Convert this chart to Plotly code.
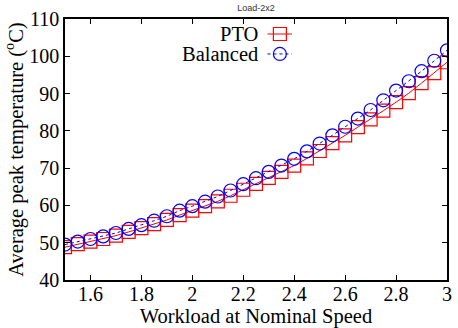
import plotly.graph_objects as go

workload = [1.50, 1.55, 1.60, 1.65, 1.70, 1.75, 1.80, 1.85, 1.90, 1.95,
            2.00, 2.05, 2.10, 2.15, 2.20, 2.25, 2.30, 2.35, 2.40, 2.45,
            2.50, 2.55, 2.60, 2.65, 2.70, 2.75, 2.80, 2.85, 2.90, 2.95, 3.00]
pto = [48.8, 49.6, 50.3, 51.0, 51.9, 52.9, 53.9, 55.0, 56.1, 57.4,
       58.6, 59.8, 61.1, 62.6, 64.2, 65.8, 67.4, 69.0, 70.7, 72.6,
       74.6, 76.7, 78.8, 81.0, 83.1, 85.4, 87.7, 90.1, 92.8, 95.5, 98.4]
balanced = [49.5, 50.3, 51.0, 51.7, 52.6, 53.7, 54.7, 55.9, 57.1, 58.6,
            59.8, 61.0, 62.4, 64.0, 65.7, 67.3, 69.0, 70.7, 72.5, 74.5,
            76.6, 78.8, 81.1, 83.3, 85.6, 88.2, 90.8, 93.3, 96.0, 98.8, 101.6]
x_tickvals = [1.6, 1.8, 2.0, 2.2, 2.4, 2.6, 2.8, 3.0]
x_ticktext = ["1.6", "1.8", "2", "2.2", "2.4", "2.6", "2.8", "3"]
y_tickvals = [40, 50, 60, 70, 80, 90, 100, 110]

SERIF = "Liberation Serif"
RED = "#ff0000"
BLUE = "#0000ff"

fig = go.Figure()
fig.add_trace(go.Scatter(
    x=workload, y=pto, mode="lines+markers", name="PTO",
    line=dict(color=RED, width=1),
    marker=dict(symbol="square-open", size=13, color=RED, line=dict(width=1.2, color=RED)),
))
fig.add_trace(go.Scatter(
    x=workload, y=balanced, mode="lines+markers", name="Balanced",
    line=dict(color=BLUE, width=1, dash="dot"),
    marker=dict(symbol="circle-open", size=13, color=BLUE, line=dict(width=1.2, color=BLUE)),
))

axis_common = dict(
    showline=True, linecolor="black", linewidth=1.5, mirror="allticks",
    ticks="inside", ticklen=5, tickcolor="black", tickwidth=1,
    showgrid=False, zeroline=False,
    tickfont=dict(family=SERIF, size=20, color="black"),
)

fig.update_layout(
    width=458, height=328,
    margin=dict(l=65, r=6, t=19, b=48),
    paper_bgcolor="white", plot_bgcolor="white",
    showlegend=False,
    title=dict(text="Load-2x2", x=0.5, xref="paper", y=0.985, yref="container",
               xanchor="center", yanchor="top",
               font=dict(family="Liberation Sans", size=9, color="#333333")),
    xaxis=dict(range=[1.5, 3.0], tickvals=x_tickvals, ticktext=x_ticktext,
               ticklabelstandoff=-5,
               title=dict(text="Workload at Nominal Speed", standoff=2,
                          font=dict(family=SERIF, size=20.5, color="black")),
               **axis_common),
    yaxis=dict(range=[40, 110], tickvals=y_tickvals,
               ticklabelstandoff=0,
               title=dict(text="Average peak temperature (<sup>o</sup>C)", standoff=0,
                          font=dict(family=SERIF, size=20.5, color="black")),
               **axis_common),
)

# gnuplot-style legend: text on the left, sample on the right
legend_items = [("PTO", RED, "solid", "rect", 0.9425), ("Balanced", BLUE, "dot", "circle", 0.866)]
for label, color, dash, shape, ypos in legend_items:
    fig.add_annotation(x=0.510, y=ypos, xref="paper", yref="paper", text=label,
                       showarrow=False, xanchor="right", yanchor="middle",
                       font=dict(family=SERIF, size=20.5, color="black"))
    fig.add_shape(type="line", xref="paper", yref="paper", x0=0.530, x1=0.594, y0=ypos, y1=ypos,
                  line=dict(color=color, width=1, dash=dash))
    fig.add_shape(type=shape, xref="paper", yref="paper", xsizemode="pixel", ysizemode="pixel",
                  xanchor=0.5625, yanchor=ypos, x0=-6.5, x1=6.5, y0=-6.5, y1=6.5,
                  line=dict(color=color, width=1.2))

fig.write_html("out.html")
